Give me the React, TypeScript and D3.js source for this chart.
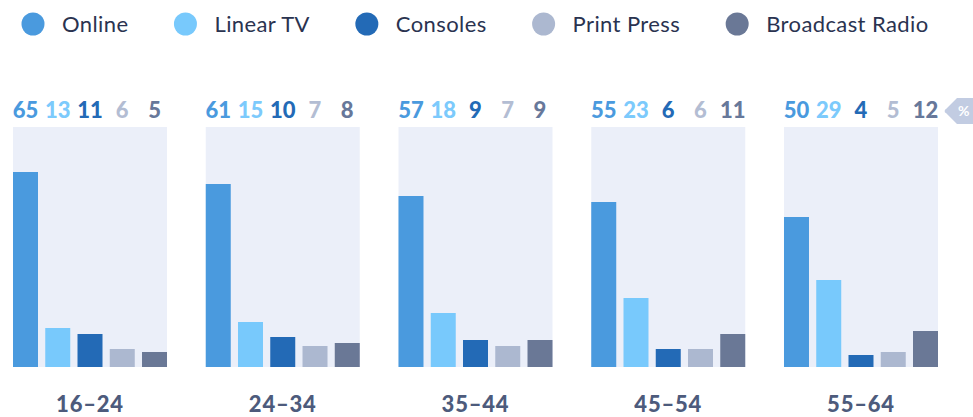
import React, { useEffect, useRef } from "react";
import * as d3 from "d3";

const WIDTH = 973;
const HEIGHT = 417;

// age groups (panels)
const categories = ["16–24", "24–34", "35–44", "45–54", "55–64"];
// media channels (bars within a panel)
const seriesNames = ["Online", "Linear TV", "Consoles", "Print Press", "Broadcast Radio"];

// share of respondents, %
const online = [65, 61, 57, 55, 50];
const linearTV = [13, 15, 18, 23, 29];
const consoles = [11, 10, 9, 6, 4];
const printPress = [6, 7, 7, 6, 5];
const broadcastRadio = [5, 8, 9, 11, 12];

const barColors = ["#4a9ade", "#78c9fc", "#236ab6", "#acb8d0", "#6a7896"];
const labelColors = ["#4a9ade", "#7ccafc", "#236ab6", "#b3bdd3", "#67789a"];

const FONT = "Lato, 'Open Sans', sans-serif";

const App = () => {
  const svgRef = useRef<SVGSVGElement>(null);

  useEffect(() => {
    const svg = d3.select(svgRef.current);
    svg.selectAll("*").remove();

    const values = [online, linearTV, consoles, printPress, broadcastRadio];

    const plotTop = 127;
    const plotBottom = 367;

    // Panels
    const xPanel = d3
      .scaleBand()
      .domain(categories)
      .range([13, 938])
      .paddingInner(0.201)
      .paddingOuter(0);

    const xBar = d3
      .scaleBand()
      .domain(seriesNames)
      .range([0, xPanel.bandwidth()])
      .paddingInner(0.225)
      .paddingOuter(0);

    const y = d3.scaleLinear().domain([0, 80]).range([plotBottom, plotTop]);

    // Legend
    const legend = svg.append("g");
    let lx = 33;
    seriesNames.forEach((name, i) => {
      const item = legend.append("g").attr("transform", `translate(${lx},0)`);
      item
        .append("circle")
        .attr("cx", 0)
        .attr("cy", 24)
        .attr("r", 11.5)
        .attr("fill", barColors[i]);
      const t = item
        .append("text")
        .attr("x", 29)
        .attr("y", 32)
        .style("font-family", FONT)
        .style("font-size", "22px")
        .style("letter-spacing", "0.4px")
        .style("fill", "#2a3350")
        .text(name);
      const w = (t.node() as SVGTextElement).getComputedTextLength();
      lx += 29 + w + 57;
    });

    const panels = svg
      .selectAll("g.panel")
      .data(categories)
      .join("g")
      .attr("class", "panel")
      .attr("transform", (d) => `translate(${xPanel(d)},0)`);

    // background
    panels
      .append("rect")
      .attr("x", 0)
      .attr("y", plotTop)
      .attr("width", xPanel.bandwidth())
      .attr("height", plotBottom - plotTop)
      .attr("fill", "#ebeff9");

    panels.each(function (cat, ci) {
      const g = d3.select(this);
      const rows = seriesNames.map((s, si) => ({ s, si, v: values[si][ci] }));

      g.selectAll("rect.bar")
        .data(rows)
        .join("rect")
        .attr("class", "bar")
        .attr("x", (d) => xBar(d.s)!)
        .attr("y", (d) => y(d.v))
        .attr("width", xBar.bandwidth())
        .attr("height", (d) => plotBottom - y(d.v))
        .attr("fill", (d) => barColors[d.si]);

      g.selectAll("text.val")
        .data(rows)
        .join("text")
        .attr("class", "val")
        .attr("x", (d) => xBar(d.s)! + xBar.bandwidth() / 2)
        .attr("y", 118)
        .attr("text-anchor", "middle")
        .style("font-family", FONT)
        .style("font-weight", 900)
        .style("font-size", "22px")
        .style("fill", (d) => labelColors[d.si])
        .text((d) => d.v);

      g.append("text")
        .attr("x", xPanel.bandwidth() / 2)
        .attr("y", 412)
        .attr("text-anchor", "middle")
        .style("font-family", FONT)
        .style("font-weight", 900)
        .style("font-size", "22px")
        .style("letter-spacing", "0.8px")
        .style("fill", "#4d5b7c")
        .text(cat);
    });

    // % tag at the right edge
    const tag = svg.append("g").attr("transform", "translate(945,111)");
    tag
      .append("path")
      .attr("d", "M0,0 Q-1,-1 1,-2 L12,-13 L40,-13 L40,13 L12,13 L1,2 Q-1,1 0,0 Z")
      .attr("fill", "#c2cce2");
    tag
      .append("text")
      .attr("x", 13)
      .attr("y", 5)
      .style("font-family", FONT)
      .style("font-weight", 700)
      .style("font-size", "14px")
      .style("fill", "#ffffff")
      .text("%");
  }, []);

  return (
    <div style={{ position: "absolute", left: 0, top: 0 }}>
      <svg ref={svgRef} width={WIDTH} height={HEIGHT} style={{ display: "block", background: "#fff" }} />
    </div>
  );
};

export default App;
